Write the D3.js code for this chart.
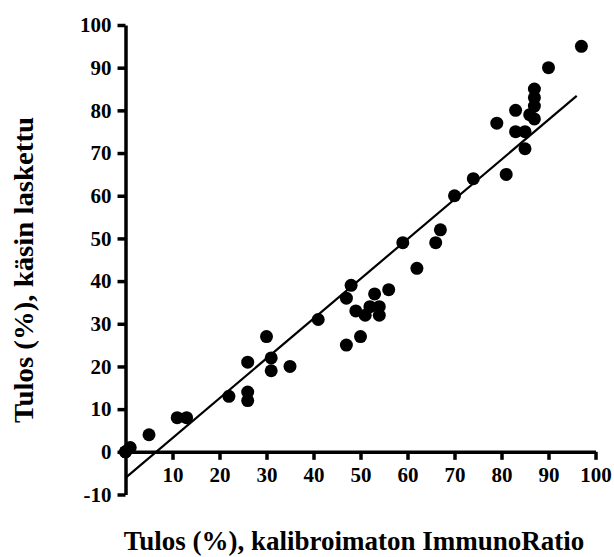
<!DOCTYPE html>
<html>
<head>
<meta charset="utf-8">
<script src="https://cdn.jsdelivr.net/npm/d3@7"></script>
<style>
  html, body { margin: 0; padding: 0; background: #fff; }
  svg { display: block; }
  .tick text { font-family: "Liberation Serif", "Times New Roman", serif; font-weight: bold; font-size: 21px; fill: #000; }
  .axis-title { font-family: "Liberation Serif", "Times New Roman", serif; font-weight: bold; font-size: 27px; fill: #000; }
</style>
</head>
<body>
<svg id="chart" width="614" height="557"></svg>
<script>
// Paired measurements: automatic ImmunoRatio (x) vs. manual count (y), percent
const xValues = [0, 0, 1, 5, 11, 13, 22, 26, 26, 26, 30, 31, 31, 35, 41, 47, 47, 48, 49, 50, 51, 52, 53, 54, 54, 56,
                 59, 62, 66, 67, 70, 74, 79, 81, 83, 83, 85, 85, 86, 87, 87, 87, 87, 90, 97];
const yValues = [0, 0, 1, 4, 8, 8, 13, 14, 12, 21, 27, 22, 19, 20, 31, 25, 36, 39, 33, 27, 32, 34, 37, 34, 32, 38,
                 49, 43, 49, 52, 60, 64, 77, 65, 80, 75, 75, 71, 79, 85, 83, 81, 78, 90, 95];

// Linear fit drawn across the data range
const fitX = [0, 96];
const fitY = [-6.1, 83.4];

// The x origin shares the y axis, so its tick starts at 10
const xTicks = [10, 20, 30, 40, 50, 60, 70, 80, 90, 100];
const yTicks = [-10, 0, 10, 20, 30, 40, 50, 60, 70, 80, 90, 100];

const xTitle = "Tulos (%), kalibroimaton ImmunoRatio";
const yTitle = "Tulos (%), käsin laskettu";

const svg = d3.select("#chart");

const x = d3.scaleLinear().domain([0, 100]).range([125.5, 595.5]);
const y = d3.scaleLinear().domain([-10, 100]).range([494.5, 25]);

// Regression line
svg.append("line")
  .attr("x1", x(fitX[0])).attr("y1", y(fitY[0]))
  .attr("x2", x(fitX[1])).attr("y2", y(fitY[1]))
  .attr("stroke", "#000").attr("stroke-width", 2.2);

// Axes
const fmt = d => String(d);
const xAxis = svg.append("g")
  .attr("transform", `translate(0,${y(0)})`)
  .call(d3.axisBottom(x).tickValues(xTicks).tickFormat(fmt).tickSize(8).tickPadding(6).tickSizeOuter(0));
const yAxis = svg.append("g")
  .attr("transform", `translate(${x(0)},0)`)
  .call(d3.axisLeft(y).tickValues(yTicks).tickFormat(fmt).tickSize(8).tickPadding(6).tickSizeOuter(0));

[xAxis, yAxis].forEach(g => {
  g.select(".domain").attr("stroke", "#000").attr("stroke-width", 3.5);
  g.selectAll(".tick line").attr("stroke", "#000").attr("stroke-width", 3.5);
  g.attr("font-family", null).attr("font-size", null);
});
xAxis.selectAll(".tick text").attr("dy", "0.75em");

// Data points
svg.append("g")
  .selectAll("circle")
  .data(xValues.map((v, i) => [v, yValues[i]]))
  .join("circle")
  .attr("cx", d => x(d[0]))
  .attr("cy", d => y(d[1]))
  .attr("r", 6.5)
  .attr("fill", "#000");

// Axis titles
svg.append("text")
  .attr("class", "axis-title")
  .attr("x", 354).attr("y", 550)
  .attr("text-anchor", "middle")
  .text(xTitle);

svg.append("text")
  .attr("class", "axis-title")
  .attr("transform", "translate(33,270) rotate(-90)")
  .attr("text-anchor", "middle")
  .attr("textLength", 306)
  .attr("lengthAdjust", "spacingAndGlyphs")
  .text(yTitle);
</script>
</body>
</html>
